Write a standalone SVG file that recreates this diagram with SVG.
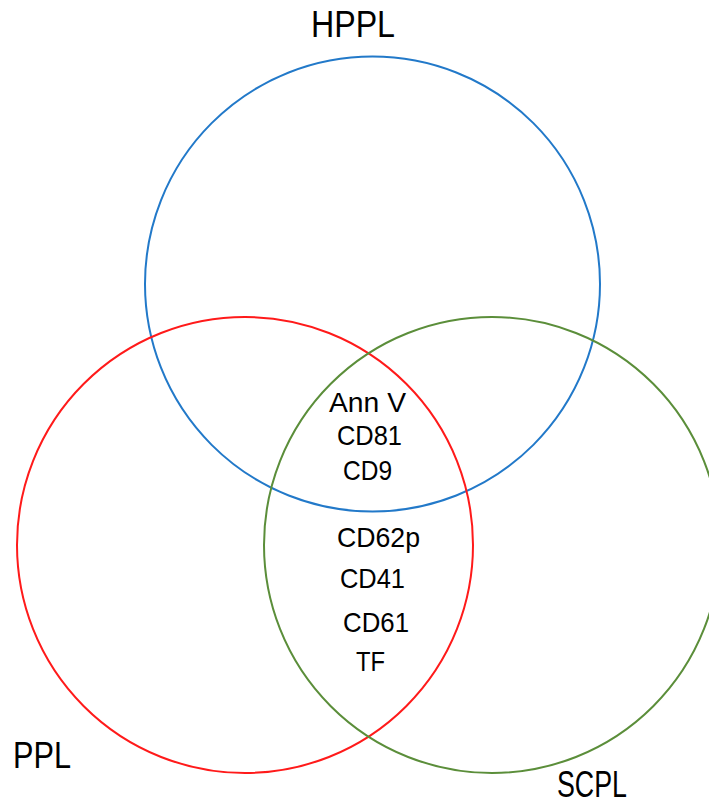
<svg xmlns="http://www.w3.org/2000/svg" width="709" height="803" viewBox="0 0 709 803">
<style>
.c{fill:none;stroke-width:2}
.t{font-family:"Liberation Sans",Arial,sans-serif;fill:#000}
.big{font-size:36px}
.sm{font-size:27.5px}
</style>
<rect width="709" height="803" fill="#fff"/>
<g id="circles">
<g id="hppl-circle"><circle class="c" cx="372.5" cy="284" r="227.5" stroke="#2279c9"/></g>
<g id="ppl-circle"><circle class="c" cx="245" cy="545" r="228" stroke="#ff1a1a"/></g>
<g id="scpl-circle"><circle class="c" cx="492" cy="545" r="228" stroke="#5b8e3a"/></g>
</g>
<g id="labels">
<text class="t big" x="311" y="37" textLength="84" lengthAdjust="spacingAndGlyphs">HPPL</text>
<text class="t big" x="13" y="768" textLength="58" lengthAdjust="spacingAndGlyphs">PPL</text>
<text class="t big" x="557" y="797" textLength="70" lengthAdjust="spacingAndGlyphs">SCPL</text>
</g>
<g id="center-text">
<text class="t sm" x="329" y="412" textLength="77" lengthAdjust="spacingAndGlyphs">Ann V</text>
<text class="t sm" x="337" y="445" textLength="65" lengthAdjust="spacingAndGlyphs">CD81</text>
<text class="t sm" x="343" y="480" textLength="49" lengthAdjust="spacingAndGlyphs">CD9</text>
<text class="t sm" x="337" y="547" textLength="83" lengthAdjust="spacingAndGlyphs">CD62p</text>
<text class="t sm" x="340" y="588" textLength="65" lengthAdjust="spacingAndGlyphs">CD41</text>
<text class="t sm" x="343" y="632" textLength="66" lengthAdjust="spacingAndGlyphs">CD61</text>
<text class="t sm" x="356" y="671" textLength="29" lengthAdjust="spacingAndGlyphs">TF</text>
</g>
</svg>
